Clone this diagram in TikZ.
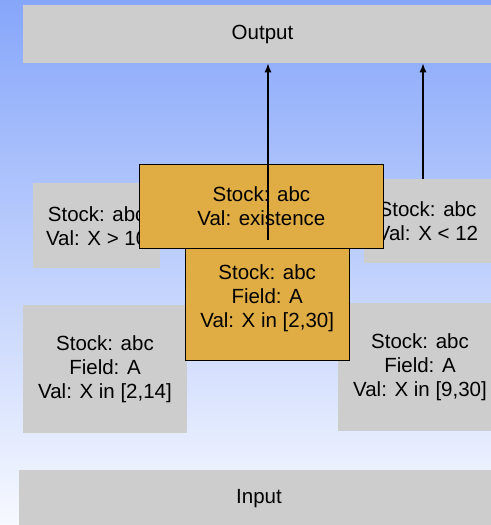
\documentclass[tikz,border=0pt]{standalone}
\usepackage{fontspec}
\setmainfont{Liberation Sans}
\usetikzlibrary{arrows.meta}

\definecolor{bgtop}{RGB}{134,166,250}
\definecolor{bgmid}{RGB}{203,214,252}
\definecolor{bgbot}{RGB}{247,249,255}
\definecolor{boxgrey}{RGB}{205,205,205}
\definecolor{boxorange}{RGB}{224,172,68}

\tikzset{
  greybox/.style={fill=boxgrey, inner sep=0pt, align=center},
  orangebox/.style={fill=boxorange, draw=black, line width=0.5pt, inner sep=0pt, align=center},
  uparrow/.style={-{Latex[length=4.5pt,width=3.6pt]}, line width=0.7pt}
}

\begin{document}
\begin{tikzpicture}[x=0.5pt, y=-0.5pt, font=\fontsize{10.25}{12}\selectfont]
    \clip (0,0) rectangle (491,525);
    \shade[top color=bgtop, middle color=bgmid, bottom color=bgbot] (0,0) rectangle (491,525);
    % grey boxes
    \node[greybox, minimum width=239.5pt, minimum height=29pt] (output) at (262.5,34) {Output};
    \node[greybox, minimum width=240pt, minimum height=29pt] (input) at (259,499) {Input};
    \node[greybox, minimum width=63.3pt, minimum height=42.5pt] (gt) at (96.7,225.8) {Stock: abc\\Val: X > 10};
    \node[greybox, minimum width=63.5pt, minimum height=42pt] (lt) at (427.5,221) {Stock: abc\\Val: X < 12};
    \node[greybox, minimum width=82.3pt, minimum height=63.8pt] (lowrange) at (105,368.8) {Stock: abc\\Field: A\\Val: X in [2,14]};
    \node[greybox, minimum width=82pt, minimum height=64pt] (highrange) at (420,366.7) {Stock: abc\\Field: A\\Val: X in [9,30]};
    % orange boxes
    \node[orangebox, minimum width=81.8pt, minimum height=56.2pt] (range) at (267.2,304.5) {};
    \node[align=center] (rangetext) at (267.2,298) {Stock: abc\\Field: A\\Val: X in [2,30]};
    \node[orangebox, minimum width=121.9pt, minimum height=41.8pt] (exist) at (261.4,206.5) {Stock: abc\\Val: existence};
    % arrows
    \coordinate (s1) at (268,240);
    \coordinate (s2) at (423,179);
    \draw[uparrow] (s1) -- (s1 |- output.south);
    \draw[uparrow] (s2) -- (s2 |- output.south);
\end{tikzpicture}
\end{document}
